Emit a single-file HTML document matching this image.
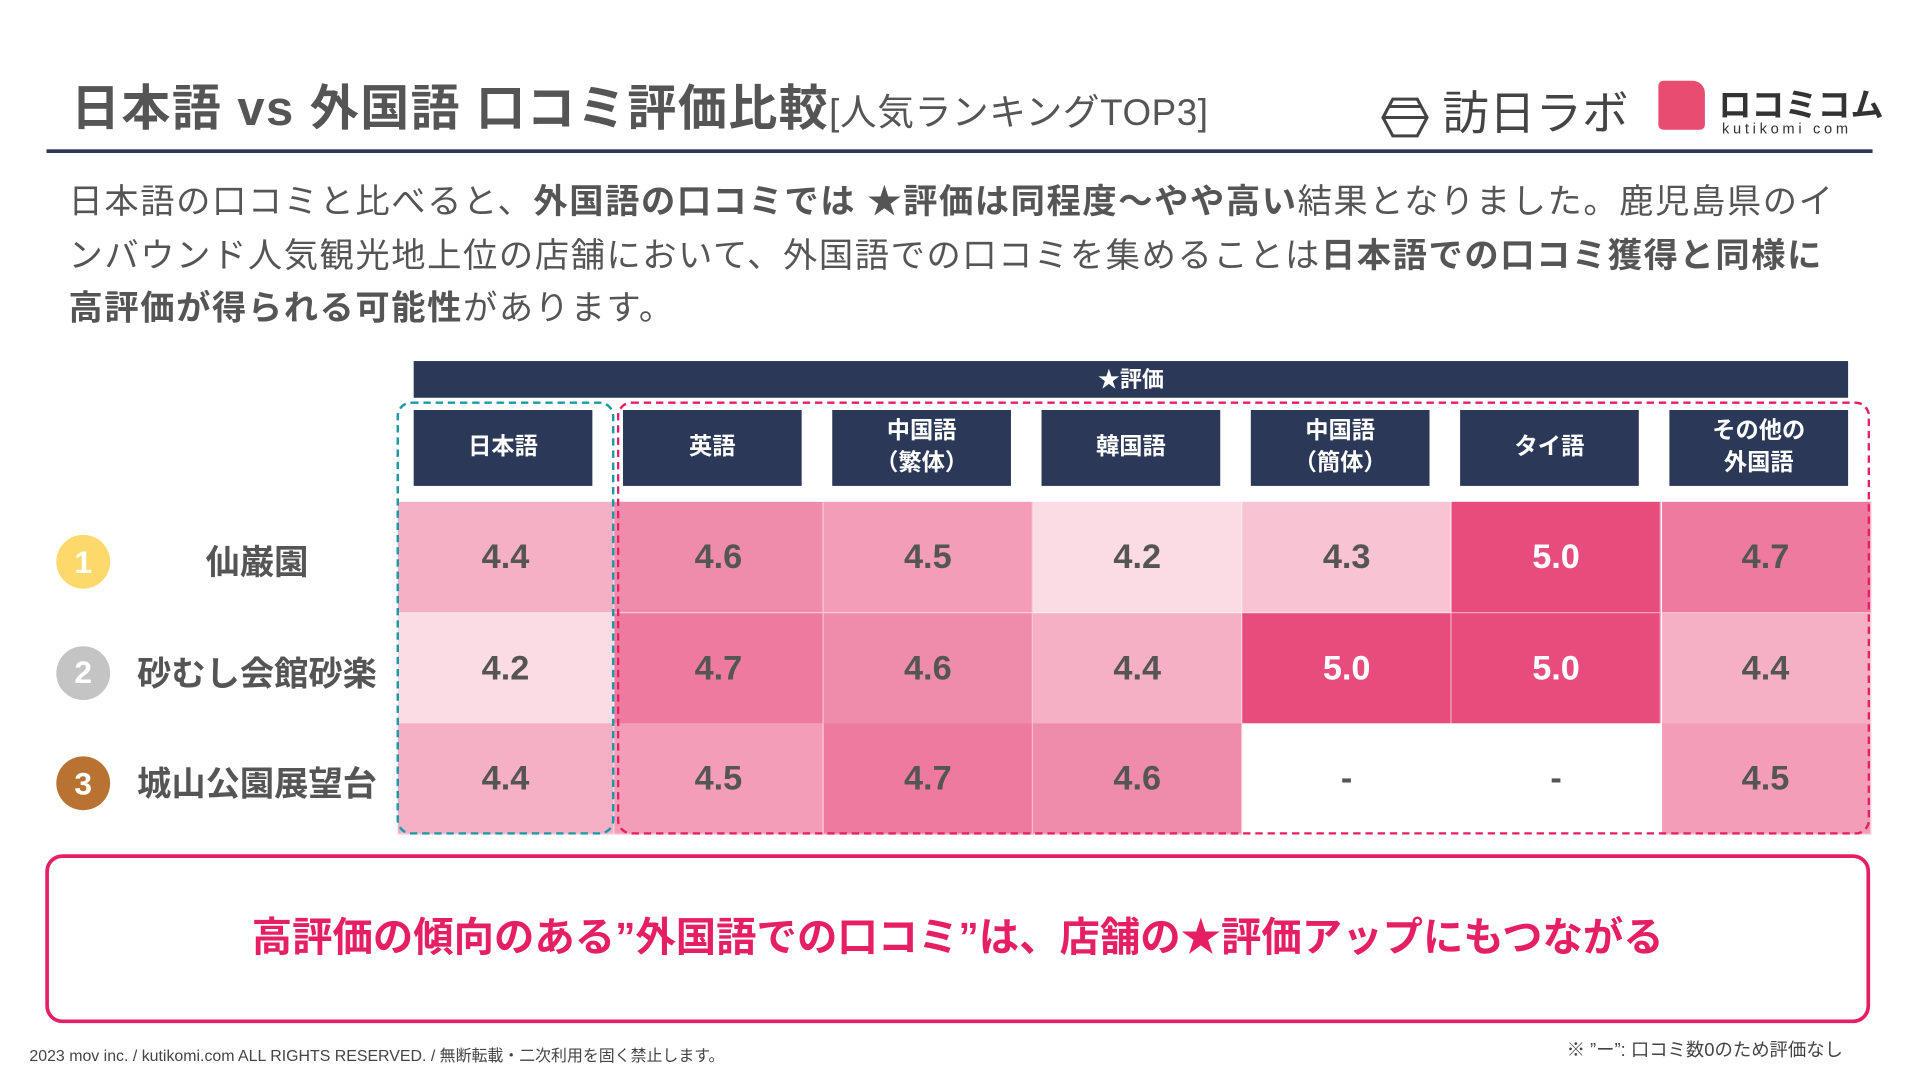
<!DOCTYPE html>
<html><head><meta charset="utf-8">
<style>
html,body{margin:0;padding:0;background:#fff;width:1919px;height:1080px;overflow:hidden}
#s{position:absolute;left:0;top:0;width:1568px;height:882px;transform:scale(1.2239);transform-origin:0 0;font-family:"Liberation Sans","Noto Sans CJK JP",sans-serif;color:#555}
.a{position:absolute}
.hd{position:absolute;background:#2b3857;color:#fff;font-weight:bold;display:flex;align-items:center;justify-content:center;text-align:center;font-size:19px;line-height:26px}
.cell{position:absolute;display:flex;align-items:center;justify-content:center;font-weight:bold;font-size:28px;border-right:1px solid rgba(255,255,255,.5);border-bottom:1px solid rgba(255,255,255,.5);box-sizing:border-box}
.rk{position:absolute;width:44px;height:44px;border-radius:50%;color:#fff;font-weight:bold;font-size:26px;display:flex;align-items:center;justify-content:center}
.nm{position:absolute;width:200px;text-align:center;font-weight:bold;font-size:28px;color:#555}
b{color:#555}
</style></head><body>
<div id="s">
<div class="a" style="left:58px;top:56px;font-size:40px;font-weight:bold;white-space:nowrap;letter-spacing:1.2px">日本語 vs 外国語 口コミ評価比較<span style="font-size:30px;font-weight:normal;letter-spacing:0.5px">[人気ランキングTOP3]</span></div>
<div class="a" style="left:1128px;top:62px;font-size:38px;color:#444;white-space:nowrap">
<svg width="40" height="36" style="vertical-align:middle" viewBox="0 0 40 36"><polygon points="10,3 30,3 38,18 30,33 10,33 2,18" fill="none" stroke="#444" stroke-width="2.5"/><line x1="2" y1="18" x2="38" y2="18" stroke="#444" stroke-width="2.5"/><line x1="7" y1="9" x2="33" y2="9" stroke="#444" stroke-width="2.5"/></svg> 訪日ラボ</div>
<div class="a" style="left:1355px;top:66px;width:38px;height:40px;background:#e84c70;border-radius:4px 10px 4px 4px"></div>
<div class="a" style="left:1404px;top:64px;font-size:27px;font-weight:bold;color:#333;white-space:nowrap">ロコミコム</div>
<div class="a" style="left:1407px;top:98px;font-size:12px;color:#333;letter-spacing:3px;white-space:nowrap">kutikomi com</div>
<div class="a" style="left:38px;top:122px;width:1492px;height:3px;background:#2b3857"></div>
<div class="a" style="left:56px;top:143px;font-size:28px;line-height:43.5px;white-space:nowrap;letter-spacing:1.3px">日本語の口コミと比べると、<b>外国語の口コミでは ★評価は同程度～やや高い</b>結果となりました。鹿児島県のイ<br>ンバウンド人気観光地上位の店舗において、外国語での口コミを集めることは<b>日本語での口コミ獲得と同様に</b><br><b>高評価が得られる可能性</b>があります。</div>
<div class="hd" style="left:338px;top:295px;width:1172px;height:30px;font-size:18px">★評価</div>
<div id="tbl"></div>
<div class="a" style="left:324px;top:328px;width:178px;height:354px;border:2px dashed #1a9aa6;border-radius:12px;box-sizing:border-box"></div>
<div class="a" style="left:504px;top:328px;width:1024px;height:354px;border:2px dashed #e61e64;border-radius:12px;box-sizing:border-box"></div>
<div class="a" style="left:37px;top:698px;width:1491px;height:138px;border:3px solid #e61e64;border-radius:14px;box-sizing:border-box;display:flex;align-items:center;justify-content:center;color:#e61e64;font-weight:bold;font-size:33px;padding-bottom:8px">高評価の傾向のある”外国語での口コミ”は、店舗の★評価アップにもつながる</div>
<div class="a" style="left:24px;top:852px;font-size:13px;color:#444;white-space:nowrap">2023 mov inc. / kutikomi.com ALL RIGHTS RESERVED. / 無断転載・二次利用を固く禁止します。</div>
<div class="a" style="left:1280px;top:847px;font-size:15px;color:#444;white-space:nowrap">※ ”ー”: 口コミ数0のため評価なし</div>
</div>
<script>
const languages=["日本語","英語","中国語<br>（繁体）","韓国語","中国語<br>（簡体）","タイ語","その他の<br>外国語"];
const places=["仙巌園","砂むし会館砂楽","城山公園展望台"];
const row1=[4.4,4.6,4.5,4.2,4.3,5.0,4.7];
const row2=[4.2,4.7,4.6,4.4,5.0,5.0,4.4];
const row3=[4.4,4.5,4.7,4.6,null,null,4.5];
const rankColors=["#fdd86a","#c4c4c4","#b87333"];
const rows=[row1,row2,row3];
function color(v){
  if(v===null)return "#ffffff";
  const t=Math.max(0,Math.min(1,(v-4.2)/0.8));
  const c0=[251,220,229],c1=[232,76,125];
  return "rgb("+c0.map((c,i)=>Math.round(c+(c1[i]-c)*Math.pow(t,0.85))).join(",")+")";
}
const tbl=document.getElementById('tbl');
const colX=i=>i===0?325:502+(i-1)*171.1;
const colW=i=>i===0?177:171;
const rowY=r=>410+r*90.5;
languages.forEach((l,i)=>{
  const d=document.createElement('div');d.className='hd';
  
  
  d.style.left=(338+i*171)+'px';d.style.top='335px';d.style.width='146px';d.style.height='62px';
  d.innerHTML=l;tbl.appendChild(d);
});
rows.forEach((row,r)=>{
  const k=document.createElement('div');k.className='rk';
  
  
  k.style.left='46px';k.style.top=(rowY(r)+27)+'px';k.style.background=rankColors[r];k.textContent=r+1;tbl.appendChild(k);
  const n=document.createElement('div');n.className='nm';
  
  
  n.style.left='110px';n.style.top=(rowY(r)+28)+'px';n.textContent=places[r];tbl.appendChild(n);
  row.forEach((v,i)=>{
    const c=document.createElement('div');c.className='cell';
    
    
    c.style.left=colX(i)+'px';c.style.top=rowY(r)+'px';c.style.width=colW(i)+'px';c.style.height='91px';
    c.style.background=color(v);c.style.color=(v!==null&&v>=4.95)?'#fff':'#555';
    c.textContent=v===null?'-':v.toFixed(1);tbl.appendChild(c);
  });
});
</script>
</body></html>
